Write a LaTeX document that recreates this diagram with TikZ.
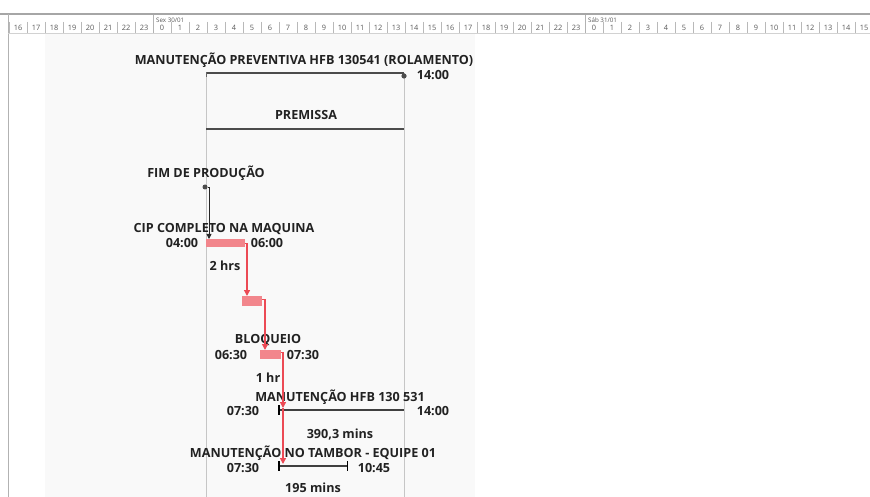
\documentclass[tikz,border=0pt]{standalone}
\usepackage{fontspec}
\setmainfont{Open Sans}
\usetikzlibrary{arrows.meta,calc}
\definecolor{barred}{HTML}{F2868C}
\definecolor{linered}{HTML}{EC4A55}
\definecolor{txt}{HTML}{222222}
\begin{document}
\begin{tikzpicture}[x=1pt,y=-1pt,
  lbl/.style={font=\fontsize{12.6}{13}\selectfont\bfseries, text=txt, inner sep=0pt},
  hr/.style={font=\fontsize{7.4}{8}\selectfont, text=gray!70!black, inner sep=0pt},
  dy/.style={font=\fontsize{6.2}{7}\selectfont, text=gray!70!black, inner sep=0pt},
  redbar/.style={fill=barred, draw=none, inner sep=0pt, anchor=north west},
  redline/.style={draw=linered, line width=1.3pt, -{Triangle[length=6pt,width=6pt]}},
  blkline/.style={draw=black!85, line width=0.9pt, -{Triangle[length=5pt,width=5pt]}},
  sumline/.style={draw=black!70, line width=2pt},
  taskline/.style={draw=black!75, line width=1.2pt},
  grid/.style={draw=gray!45, line width=0.8pt}]
\useasboundingbox (0,0) rectangle (870,497);
\fill[white] (0,0) rectangle (870,497);
\fill[gray!5] (45,34) rectangle (475,497);
% timescale
\draw[gray!70, line width=1.3pt] (0,14) -- (870,14);
\draw[gray!60] (8,14) -- (8,497);
\draw[gray!35] (8,33) -- (870,33);
\foreach \i in {0,...,47}{
  \pgfmathtruncatemacro{\h}{mod(\i+16,24)}
  \draw[gray!55] ({9+18*\i},22) -- ({9+18*\i},33);
  \node[hr] at ({18+18*\i},28) {\h};
}
\draw[gray!60] (153,15) -- (153,33);
\draw[gray!60] (585,15) -- (585,33);
\node[dy, anchor=west] (d1) at (156,20) {Sex 30/01};
\node[dy, anchor=west] (d2) at (588,20) {Sáb 31/01};
% vertical guide lines
\coordinate (sumL) at (206,73);
\coordinate (sumR) at (404,73);
\draw[grid] (sumL) -- (206,497);
\draw[grid] (sumR) -- (404,497);
% summary task
\node[lbl] (t1) at (304,60) {MANUTENÇÃO PREVENTIVA HFB 130541 (ROLAMENTO)};
\draw[sumline] (sumL) -- (sumR);
\draw[black!60, line width=1pt] (206,72) -- (206,77);
\fill[gray!60!black] (404,76) circle (2.6pt);
\node[lbl] (t1e) at (433,75) {14:00};
% premissa
\node[lbl] (t2) at (306,115) {PREMISSA};
\coordinate (pL) at (206,129);
\coordinate (pR) at (404,129);
\draw[sumline] (pL) -- (pR);
% milestone
\node[lbl] (t3) at (206,173) {FIM DE PRODUÇÃO};
\node[circle, fill=gray!60!black, inner sep=0pt, minimum size=5pt] (ms) at (205,187) {};
% CIP
\node[lbl] (t4) at (224,229) {CIP COMPLETO NA MAQUINA};
\node[lbl] (t4s) at (182,243) {04:00};
\node[lbl] (t4e) at (267,243) {06:00};
\node[redbar, minimum width=39pt, minimum height=8pt] (cip) at (206,239) {};
\node[lbl] (t4d) at (225,266) {2 hrs};
% task 2
\node[redbar, minimum width=20pt, minimum height=10pt] (b2) at (242,296) {};
% BLOQUEIO
\node[lbl] (t5) at (268,340) {BLOQUEIO};
\node[lbl] (t5s) at (231,355) {06:30};
\node[lbl] (t5e) at (303,355) {07:30};
\node[redbar, minimum width=21pt, minimum height=9pt] (b3) at (260,350) {};
\node[lbl] (t5d) at (268,378) {1 hr};
% MANUTENCAO HFB
\node[lbl] (t6) at (340,397) {MANUTENÇÃO HFB 130 531};
\node[lbl] (t6s) at (243,411) {07:30};
\node[lbl] (t6e) at (433,411) {14:00};
\coordinate (h1) at (279,410);
\coordinate (h2) at (404,410);
\draw[taskline] (h1) -- (h2);
\draw[black, line width=1.4pt] (279,405) -- (279,415);
\node[lbl] (t6d) at (340,435) {390,3 mins};
% TAMBOR
\node[lbl] (t7) at (313,453) {MANUTENÇÃO NO TAMBOR - EQUIPE 01};
\node[lbl] (t7s) at (243,468) {07:30};
\node[lbl] (t7e) at (374,468) {10:45};
\coordinate (m1) at (279,466);
\coordinate (m2) at (347,466);
\draw[taskline] (m1) -- (m2);
\draw[black, line width=1.4pt] (279,461) -- (279,471);
\draw[black, line width=1pt] (347,461) -- (347,471);
\node[lbl] (t7d) at (313,488) {195 mins};
% connectors
\draw[blkline] (ms.east) -| ($(cip.north west)+(3,0)$);
\draw[redline] (cip.east) -| ($(b2.north west)+(5,0)$);
\draw[redline] ($(b2.east)+(0,-2)$) -| ($(b3.north west)+(5,0)$);
\draw[redline] ($(b3.east)+(0,-2)$) -| ($(h1)+(4,-2)$);
\draw[redline] ($(h1)+(4,-2)$) -- ($(m1)+(4,-2)$);
\end{tikzpicture}
\end{document}
